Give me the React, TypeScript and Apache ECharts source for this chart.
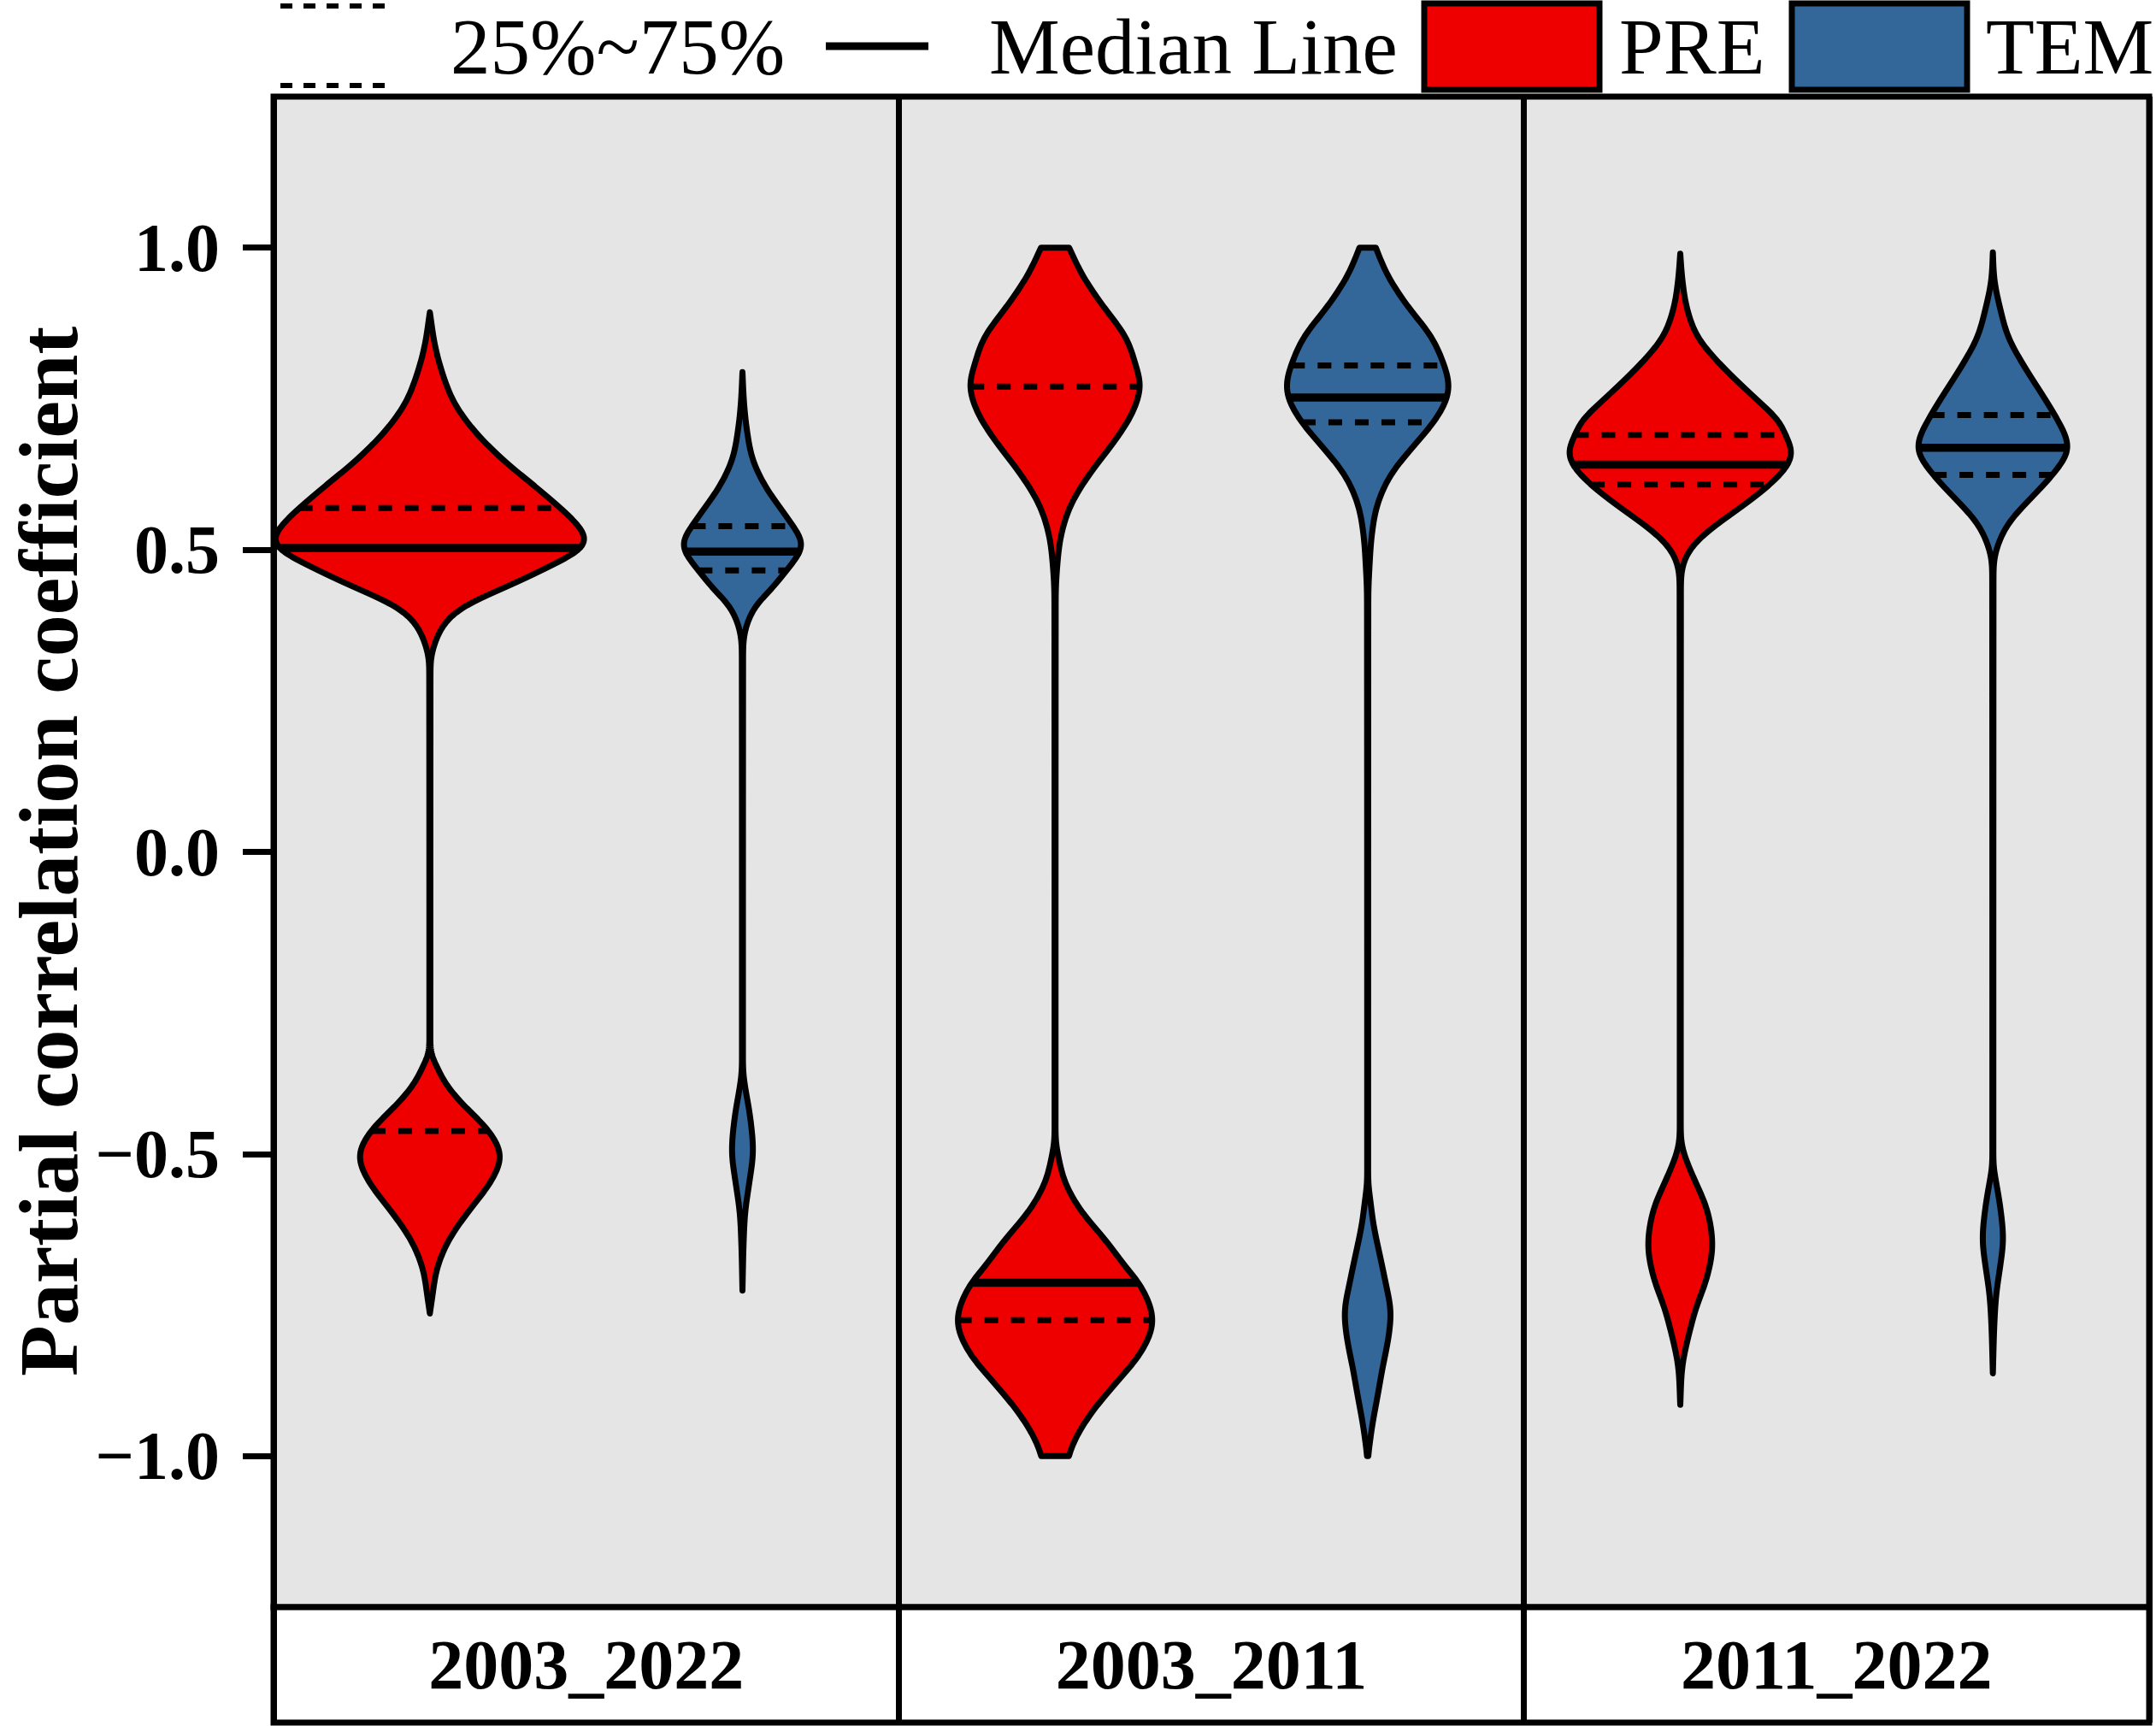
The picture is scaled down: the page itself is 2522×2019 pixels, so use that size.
import React, { useEffect, useRef } from "react";
import * as echarts from "echarts";

// ---------- data ----------
const periods = ["2003_2022", "2003_2011", "2011_2022"];
const variables = ["PRE", "TEM"];
const fillColors = ["#EE0000", "#336699"];
const yTickValues = [-1, -0.5, 0, 0.5, 1];
const yTitle = "Partial correlation coefficient";

// Violin outlines: y value and half width (x-axis units, one panel = 2 units)
const pre2003_2022Y = [0.893, 0.836, 0.789, 0.742, 0.695, 0.647, 0.6, 0.569, 0.5435, 0.52, 0.503, 0.482, 0.459, 0.435, 0.411, 0.388, 0.364, 0.336, 0.317, -0.334, -0.349, -0.382, -0.415, -0.462, -0.504, -0.547, -0.594, -0.641, -0.689, -0.736, -0.764];
const pre2003_2022W = [0, 0.017, 0.042, 0.079, 0.145, 0.238, 0.348, 0.418, 0.469, 0.5, 0.493, 0.418, 0.33, 0.229, 0.123, 0.062, 0.03, 0.01, 0.002, 0.0015, 0.017, 0.048, 0.1, 0.189, 0.227, 0.194, 0.125, 0.062, 0.023, 0.008, 0];

const tem2003_2022Y = [0.794, 0.742, 0.695, 0.647, 0.6, 0.553, 0.506, 0.497, 0.466, 0.435, 0.411, 0.388, 0.364, 0.34, -0.358, -0.391, -0.429, -0.495, -0.547, -0.594, -0.641, -0.726];
const tem2003_2022W = [0, 0.005, 0.015, 0.034, 0.079, 0.143, 0.194, 0.187, 0.141, 0.093, 0.047, 0.022, 0.007, 0.002, 0.0015, 0.009, 0.022, 0.034, 0.022, 0.009, 0.004, 0];

const pre2003_2011Y = [1.0, 0.954, 0.903, 0.853, 0.802, 0.774, 0.726, 0.676, 0.625, 0.575, 0.524, 0.474, 0.423, -0.476, -0.5, -0.547, -0.594, -0.641, -0.689, -0.714, -0.776, -0.83, -0.877, -0.925, -0.972, -1.0];
const pre2003_2011W = [0.045, 0.088, 0.154, 0.225, 0.26, 0.273, 0.247, 0.185, 0.11, 0.051, 0.019, 0.007, 0.002, 0.0015, 0.009, 0.032, 0.083, 0.159, 0.229, 0.269, 0.313, 0.273, 0.198, 0.121, 0.064, 0.044];

const tem2003_2011Y = [1.0, 0.954, 0.903, 0.853, 0.802, 0.774, 0.752, 0.711, 0.676, 0.625, 0.575, 0.524, 0.474, 0.423, -0.547, -0.57, -0.618, -0.665, -0.712, -0.764, -0.806, -0.853, -0.9, -0.948, -0.981, -1.0];
const tem2003_2011W = [0.026, 0.064, 0.128, 0.203, 0.247, 0.26, 0.255, 0.211, 0.154, 0.075, 0.031, 0.013, 0.006, 0.002, 0.0015, 0.007, 0.019, 0.038, 0.057, 0.074, 0.066, 0.048, 0.032, 0.015, 0.006, 0.002];

const pre2011_2022Y = [0.99, 0.945, 0.898, 0.851, 0.803, 0.756, 0.709, 0.691, 0.662, 0.641, 0.609, 0.567, 0.544, 0.52, 0.497, 0.473, 0.45, -0.471, -0.495, -0.542, -0.589, -0.651, -0.707, -0.754, -0.802, -0.849, -0.915];
const pre2011_2022W = [0, 0.007, 0.022, 0.057, 0.135, 0.229, 0.322, 0.335, 0.359, 0.346, 0.289, 0.185, 0.122, 0.064, 0.026, 0.007, 0.002, 0.0015, 0.009, 0.045, 0.084, 0.103, 0.084, 0.051, 0.026, 0.007, 0];

const tem2011_2022Y = [0.992, 0.945, 0.898, 0.851, 0.803, 0.756, 0.723, 0.685, 0.669, 0.624, 0.591, 0.544, 0.497, 0.47, -0.518, -0.542, -0.589, -0.641, -0.684, -0.731, -0.778, -0.863];
const tem2011_2022W = [0, 0.005, 0.024, 0.05, 0.101, 0.159, 0.198, 0.236, 0.242, 0.191, 0.132, 0.05, 0.009, 0.002, 0.0015, 0.009, 0.024, 0.033, 0.024, 0.011, 0.005, 0];

// order: PRE, TEM for each period
const medians = [0.503, 0.497, -0.713, 0.752, 0.641, 0.669];
const quartile25 = [-0.462, 0.466, -0.775, 0.711, 0.608, 0.624];
const quartile75 = [0.569, 0.539, 0.77, 0.805, 0.69, 0.723];

const violinYs = [pre2003_2022Y, tem2003_2022Y, pre2003_2011Y, tem2003_2011Y, pre2011_2022Y, tem2011_2022Y];
const violinWs = [pre2003_2022W, tem2003_2022W, pre2003_2011W, tem2003_2011W, pre2011_2022W, tem2011_2022W];

const FONT = "'Liberation Serif', 'Times New Roman', serif";

// monotone cubic (Fritsch-Carlson) through pixel points [x, y], x increasing
function monotone(pts: number[][]) {
  const n = pts.length;
  const xs = pts.map((p) => p[0]);
  const ys = pts.map((p) => p[1]);
  const d: number[] = [];
  const m: number[] = new Array(n).fill(0);
  for (let i = 0; i < n - 1; i++) d.push((ys[i + 1] - ys[i]) / (xs[i + 1] - xs[i]));
  m[0] = d[0];
  m[n - 1] = d[n - 2];
  for (let i = 1; i < n - 1; i++) {
    if (d[i - 1] * d[i] <= 0) m[i] = 0;
    else m[i] = (d[i - 1] + d[i]) / 2;
  }
  for (let i = 0; i < n - 1; i++) {
    if (d[i] === 0) {
      m[i] = 0;
      m[i + 1] = 0;
      continue;
    }
    const a = m[i] / d[i];
    const b = m[i + 1] / d[i];
    const s = a * a + b * b;
    if (s > 9) {
      const t = 3 / Math.sqrt(s);
      m[i] = t * a * d[i];
      m[i + 1] = t * b * d[i];
    }
  }
  return (x: number) => {
    if (x <= xs[0]) return ys[0];
    if (x >= xs[n - 1]) return ys[n - 1];
    let i = 0;
    while (i < n - 2 && x > xs[i + 1]) i++;
    const h = xs[i + 1] - xs[i];
    const t = (x - xs[i]) / h;
    const t2 = t * t;
    const t3 = t2 * t;
    const v =
      (2 * t3 - 3 * t2 + 1) * ys[i] +
      (t3 - 2 * t2 + t) * h * m[i] +
      (-2 * t3 + 3 * t2) * ys[i + 1] +
      (t3 - t2) * h * m[i + 1];
    return Math.max(0, v);
  };
}

// gaussian smoothing of sampled outline (pixel space) to round off reading kinks
function smoothSamples(vals: number[], sigmaSamples: number) {
  const n = vals.length;
  const r = Math.ceil(sigmaSamples * 2.5);
  const kern: number[] = [];
  for (let k = -r; k <= r; k++) kern.push(Math.exp(-(k * k) / (2 * sigmaSamples * sigmaSamples)));
  const out: number[] = new Array(n);
  for (let i = 0; i < n; i++) {
    const rr = Math.min(r, i, n - 1 - i);
    let s = 0;
    let ws = 0;
    for (let k = -rr; k <= rr; k++) {
      const w = kern[k + r];
      s += w * vals[i + k];
      ws += w;
    }
    out[i] = s / ws;
  }
  return out;
}

export default function App() {
  const ref = useRef<HTMLDivElement>(null);
  useEffect(() => {
    if (!ref.current) return;
    const chart = echarts.init(ref.current, undefined, { renderer: "svg" });

    const violinData = violinYs.map((_, i) => [Math.floor(i / 2) * 2 + (i % 2) + 0.5, 0]);

    const renderViolin = (params: any, api: any) => {
      const i = params.dataIndex;
      const ysv = violinYs[i];
      const wsv = violinWs[i];
      const cx = api.value(0);
      const c0 = api.coord([cx, 0])[0];
      const pts = ysv.map((yy, k) => {
        const c = api.coord([cx, yy]);
        const e = api.coord([cx + wsv[k], yy]);
        return [c[1], e[0] - c[0]];
      });
      const f = monotone(pts);
      const yTop = pts[0][0];
      const yBot = pts[pts.length - 1][0];
      const step = 1.5;
      const pys: number[] = [];
      for (let py = yTop; py < yBot; py += step) pys.push(py);
      pys.push(yBot);
      const raw = pys.map((py) => f(py));
      const sm = smoothSamples(raw, 6);
      const g = (py: number) => {
        const idx = Math.min(pys.length - 1, Math.max(0, Math.round((py - yTop) / step)));
        return sm[idx];
      };
      const right = pys.map((py, k) => [c0 + sm[k], py]);
      const left = pys.slice().reverse().map((py, k) => [c0 - sm[pys.length - 1 - k], py]);
      const children: any[] = [
        {
          type: "polygon",
          shape: { points: right.concat(left) },
          style: { fill: fillColors[i % 2], stroke: "#000", lineWidth: 7, lineJoin: "round" },
        },
      ];
      const addLine = (q: number, dashed: boolean) => {
        const py = api.coord([cx, q])[1];
        const w = g(py);
        children.push({
          type: "line",
          shape: { x1: c0 - w, y1: py, x2: c0 + w, y2: py },
          style: dashed
            ? { stroke: "#000", lineWidth: 7, lineDash: [16, 15] }
            : { stroke: "#000", lineWidth: 9.5 },
        });
      };
      addLine(quartile25[i], true);
      addLine(quartile75[i], true);
      addLine(medians[i], false);
      return { type: "group", children };
    };

    const legendText = (text: string, x: number) => ({
      type: "text",
      x,
      y: 54,
      style: { text, fontFamily: FONT, fontSize: 93, fill: "#000", align: "left", verticalAlign: "middle" },
    });

    chart.setOption({
      animation: false,
      backgroundColor: "#ffffff",
      grid: [
        { left: 320, right: 8, top: 113, bottom: 139, containLabel: false, outerBoundsMode: "none", show: true, backgroundColor: "#E5E5E5", borderColor: "#000", borderWidth: 7 },
        { left: 320, right: 8, top: 1880, bottom: 4, containLabel: false, outerBoundsMode: "none", show: true, backgroundColor: "#ffffff", borderColor: "#000", borderWidth: 7 },
      ],
      xAxis: [
        {
          type: "value", gridIndex: 0, min: 0, max: 6, interval: 2,
          axisLine: { show: false }, axisTick: { show: false }, axisLabel: { show: false },
          splitLine: { show: true, lineStyle: { color: "#000", width: 7 } },
        },
        {
          type: "value", gridIndex: 1, min: 0, max: 6, interval: 2,
          axisLine: { show: false }, axisTick: { show: false }, axisLabel: { show: false },
          splitLine: { show: true, lineStyle: { color: "#000", width: 7 } },
        },
      ],
      yAxis: [
        {
          type: "value", gridIndex: 0, min: -1.25, max: 1.25,
          axisLine: { show: false },
          axisTick: { show: true, customValues: yTickValues, length: 36, lineStyle: { color: "#000", width: 7 } },
          axisLabel: {
            show: true, customValues: yTickValues, margin: 63,
            fontFamily: FONT, fontWeight: "bold", fontSize: 80, color: "#000",
            formatter: (v: number) => (v < 0 ? "\u2212" + Math.abs(v).toFixed(1) : v.toFixed(1)),
          },
          splitLine: { show: false },
        },
        { type: "value", gridIndex: 1, min: -1, max: 1, show: false },
      ],
      series: [
        {
          type: "custom",
          name: "violins",
          xAxisIndex: 0,
          yAxisIndex: 0,
          data: violinData,
          renderItem: renderViolin,
          silent: true,
        },
        {
          type: "custom",
          name: "strip",
          xAxisIndex: 1,
          yAxisIndex: 1,
          data: periods.map((_, i) => [i * 2 + 1, 0]),
          renderItem: (params: any, api: any) => {
            const c = api.coord([api.value(0), api.value(1)]);
            return {
              type: "text",
              x: c[0],
              y: c[1],
              style: {
                text: periods[params.dataIndex], fontFamily: FONT, fontWeight: "bold", fontSize: 82,
                fill: "#000", align: "center", verticalAlign: "middle",
              },
            };
          },
          silent: true,
        },
      ],
      graphic: [
        {
          type: "text",
          x: 57,
          y: 996,
          rotation: Math.PI / 2,
          style: { text: yTitle, fontFamily: FONT, fontWeight: "bold", fontSize: 98, fill: "#000", align: "center", verticalAlign: "middle" },
        },
        { type: "line", shape: { x1: 328, y1: 7, x2: 463, y2: 7 }, style: { stroke: "#000", lineWidth: 6, lineDash: [14, 13] } },
        { type: "line", shape: { x1: 328, y1: 100, x2: 463, y2: 100 }, style: { stroke: "#000", lineWidth: 6, lineDash: [14, 13] } },
        legendText("25%~75%", 527),
        { type: "line", shape: { x1: 966, y1: 54, x2: 1086, y2: 54 }, style: { stroke: "#000", lineWidth: 9 } },
        legendText("Median Line", 1157),
        { type: "rect", shape: { x: 1666, y: 4, width: 205, height: 101 }, style: { fill: fillColors[0], stroke: "#000", lineWidth: 7 } },
        legendText(variables[0], 1894),
        { type: "rect", shape: { x: 2096, y: 4, width: 205, height: 101 }, style: { fill: fillColors[1], stroke: "#000", lineWidth: 7 } },
        legendText(variables[1], 2323),
      ],
    });
    return () => chart.dispose();
  }, []);
  return <div ref={ref} style={{ position: "fixed", left: 0, top: 0, width: 2522, height: 2019 }} />;
}
